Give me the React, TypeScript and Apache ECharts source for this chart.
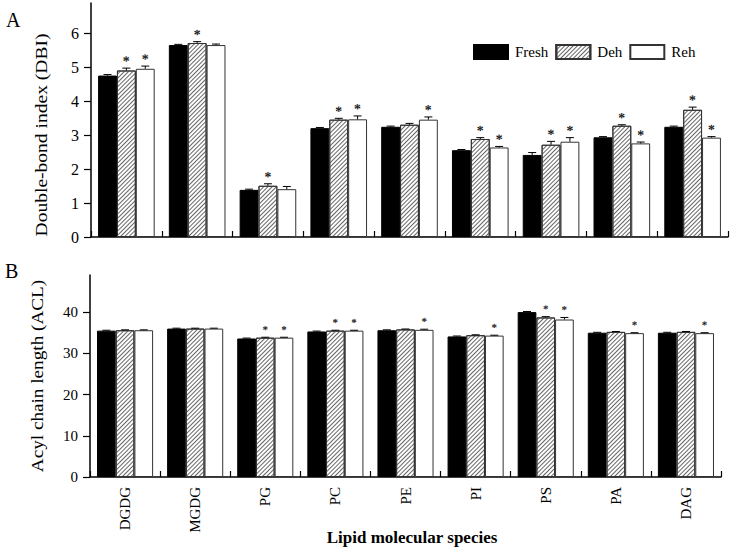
import React, { useEffect, useRef } from 'react';
import * as echarts from 'echarts';

const categories = ['DGDG', 'MGDG', 'PG', 'PC', 'PE', 'PI', 'PS', 'PA', 'DAG'];
const seriesNames = ['Fresh', 'Deh', 'Reh'];

// Panel A: Double-bond index
const freshDBI = [4.76, 5.66, 1.39, 3.21, 3.25, 2.56, 2.42, 2.94, 3.25];
const dehDBI = [4.91, 5.72, 1.51, 3.46, 3.31, 2.89, 2.72, 3.28, 3.75];
const rehDBI = [4.96, 5.66, 1.41, 3.47, 3.46, 2.64, 2.81, 2.76, 2.93];
const freshDBIErr = [0.03, 0.02, 0.02, 0.02, 0.02, 0.02, 0.07, 0.02, 0.02];
const dehDBIErr = [0.07, 0.04, 0.06, 0.04, 0.04, 0.04, 0.1, 0.03, 0.08];
const rehDBIErr = [0.08, 0.03, 0.08, 0.1, 0.08, 0.03, 0.12, 0.04, 0.03];
const freshDBISig = [0, 0, 0, 0, 0, 0, 0, 0, 0];
const dehDBISig = [1, 1, 1, 1, 0, 1, 1, 1, 1];
const rehDBISig = [1, 0, 0, 1, 1, 1, 1, 1, 1];
const dbiTicks = [0, 1, 2, 3, 4, 5, 6];

// Panel B: Acyl chain length
const freshACL = [35.5, 36.0, 33.6, 35.3, 35.6, 34.1, 40.0, 35.0, 35.0];
const dehACL = [35.6, 36.0, 33.8, 35.5, 35.8, 34.4, 38.7, 35.2, 35.2];
const rehACL = [35.6, 36.0, 33.8, 35.5, 35.7, 34.3, 38.2, 34.9, 34.9];
const freshACLErr = [0.1, 0.1, 0.1, 0.1, 0.1, 0.1, 0.15, 0.1, 0.1];
const dehACLErr = [0.1, 0.1, 0.1, 0.1, 0.1, 0.1, 0.2, 0.1, 0.1];
const rehACLErr = [0.1, 0.1, 0.1, 0.1, 0.15, 0.1, 0.5, 0.1, 0.1];
const freshACLSig = [0, 0, 0, 0, 0, 0, 0, 0, 0];
const dehACLSig = [0, 0, 1, 1, 0, 0, 1, 0, 0];
const rehACLSig = [0, 0, 1, 1, 1, 1, 1, 1, 1];
const aclTicks = [0, 10, 20, 30, 40];

const FONT = '"Liberation Serif", "Times New Roman", serif';

const barStyles = [
  { color: '#000', borderColor: '#000', borderWidth: 1 },
  {
    color: '#fff',
    borderColor: '#333',
    borderWidth: 1,
    decal: {
      symbol: 'rect',
      symbolSize: 1,
      dashArrayX: [1, 0],
      dashArrayY: [1, 2],
      rotation: -Math.PI / 4,
      color: '#666',
      backgroundColor: '#fff',
    },
  },
  { color: '#fff', borderColor: '#333', borderWidth: 1 },
];

function barSeries(gi: number, k: number, vals: number[]) {
  return {
    type: 'bar',
    name: seriesNames[k],
    xAxisIndex: gi,
    yAxisIndex: gi,
    data: vals,
    barGap: '0%',
    barCategoryGap: '20%',
    itemStyle: barStyles[k],
    emphasis: { disabled: true },
  };
}

function errSeries(gi: number, k: number, vals: number[], errs: number[], sig: number[], starSize: number, starGap: number) {
  return {
    type: 'custom',
    name: 'err' + gi + k,
    xAxisIndex: gi,
    yAxisIndex: gi,
    z: 10,
    itemStyle: { color: '#222' },
    data: vals.map((v, i) => [i, v, errs[i], sig[i]]),
    encode: { x: 0, y: 1 },
    renderItem: (params: any, api: any) => {
      const i = api.value(0);
      const v = api.value(1);
      const e = api.value(2);
      const s = api.value(3);
      const catW = api.size([1, 0])[0];
      const bw = (catW * 0.8) / 3;
      const off = (k - 1) * bw;
      const base = api.coord([i, v]);
      const top = api.coord([i, v + e]);
      const x = base[0] + off;
      const children: any[] = [
        { type: 'line', shape: { x1: x, y1: base[1], x2: x, y2: top[1] }, style: { stroke: '#000', lineWidth: 1 } },
        { type: 'line', shape: { x1: x - 4, y1: top[1], x2: x + 4, y2: top[1] }, style: { stroke: '#000', lineWidth: 1 } },
      ];
      if (s) {
        children.push({
          type: 'text',
          x: x,
          y: top[1] - starGap,
          rotation: 0.05,
          style: {
            text: '*',
            x: 0,
            y: 0,
            align: 'center',
            verticalAlign: 'middle',
            font: `bold ${starSize}px ${FONT}`,
            fill: '#222',
          },
        });
      }
      return { type: 'group', children };
    },
  };
}

export default function App() {
  const ref = useRef<HTMLDivElement>(null);
  useEffect(() => {
    document.body.style.margin = '0';
    const chart = echarts.init(ref.current!, null, { renderer: 'svg' });
    const axisLine = { show: true, lineStyle: { color: '#000', width: 1.5 } };
    const xTick = { show: true, inside: true, length: 6, lineStyle: { color: '#000', width: 1.2 } };
    const option: any = {
      animation: false,
      backgroundColor: '#fff',
      legend: {
        data: seriesNames,
        left: 468,
        top: 39,
        icon: 'rect',
        itemWidth: 34,
        itemHeight: 14,
        itemGap: 7,
        selectedMode: false,
        textStyle: { fontFamily: FONT, fontSize: 15, color: '#000', padding: [0, 0, 0, 2] },
      },
      grid: [
        { left: 91, right: 6, top: 3, height: 234 },
        { left: 90, right: 13, top: 275, height: 202 },
      ],
      xAxis: [
        {
          type: 'category',
          gridIndex: 0,
          data: categories,
          axisLine,
          axisTick: xTick,
          axisLabel: { show: false },
        },
        {
          type: 'category',
          gridIndex: 1,
          data: categories,
          axisLine,
          axisTick: xTick,
          axisLabel: { rotate: 90, margin: 10, fontFamily: FONT, fontSize: 15, color: '#000' },
        },
      ],
      yAxis: [
        {
          type: 'value',
          gridIndex: 0,
          min: 0,
          max: 6.9,
          interval: 1,
          axisLine,
          splitLine: { show: false },
          axisTick: { show: true, length: 7, customValues: dbiTicks, lineStyle: { color: '#000', width: 1.2 } },
          axisLabel: { customValues: dbiTicks, margin: 12, fontFamily: FONT, fontSize: 16, color: '#000' },
        },
        {
          type: 'value',
          gridIndex: 1,
          min: 0,
          max: 49,
          interval: 10,
          axisLine,
          splitLine: { show: false },
          axisTick: { show: true, length: 7, customValues: aclTicks, lineStyle: { color: '#000', width: 1.2 } },
          axisLabel: { customValues: aclTicks, margin: 12, fontFamily: FONT, fontSize: 15, color: '#000' },
        },
      ],
      graphic: [
        { type: 'text', left: 6, top: 10, style: { text: 'A', font: `20px ${FONT}`, fill: '#000' } },
        { type: 'text', left: 5, top: 261, style: { text: 'B', font: `20px ${FONT}`, fill: '#000' } },
        {
          type: 'text', x: 41, y: 135, rotation: Math.PI / 2, scaleX: 1.15,
          style: { text: 'Double-bond index (DBI)', font: `17px ${FONT}`, align: 'center', verticalAlign: 'middle', fill: '#000' },
        },
        {
          type: 'text', x: 37, y: 376, rotation: Math.PI / 2, scaleX: 1.13,
          style: { text: 'Acyl chain length (ACL)', font: `17px ${FONT}`, align: 'center', verticalAlign: 'middle', fill: '#000' },
        },
        {
          type: 'text', x: 412, y: 537,
          style: { text: 'Lipid molecular species', font: `bold 17px ${FONT}`, align: 'center', verticalAlign: 'middle', fill: '#000' },
        },
      ],
      series: [
        barSeries(0, 0, freshDBI),
        barSeries(0, 1, dehDBI),
        barSeries(0, 2, rehDBI),
        barSeries(1, 0, freshACL),
        barSeries(1, 1, dehACL),
        barSeries(1, 2, rehACL),
        errSeries(0, 0, freshDBI, freshDBIErr, freshDBISig, 14, 7),
        errSeries(0, 1, dehDBI, dehDBIErr, dehDBISig, 14, 7),
        errSeries(0, 2, rehDBI, rehDBIErr, rehDBISig, 14, 7),
        errSeries(1, 0, freshACL, freshACLErr, freshACLSig, 11, 8),
        errSeries(1, 1, dehACL, dehACLErr, dehACLSig, 11, 8),
        errSeries(1, 2, rehACL, rehACLErr, rehACLSig, 11, 8),
      ],
    };
    chart.setOption(option);
    return () => chart.dispose();
  }, []);
  return <div ref={ref} style={{ position: 'absolute', left: 0, top: 0, width: 734, height: 550 }} />;
}
